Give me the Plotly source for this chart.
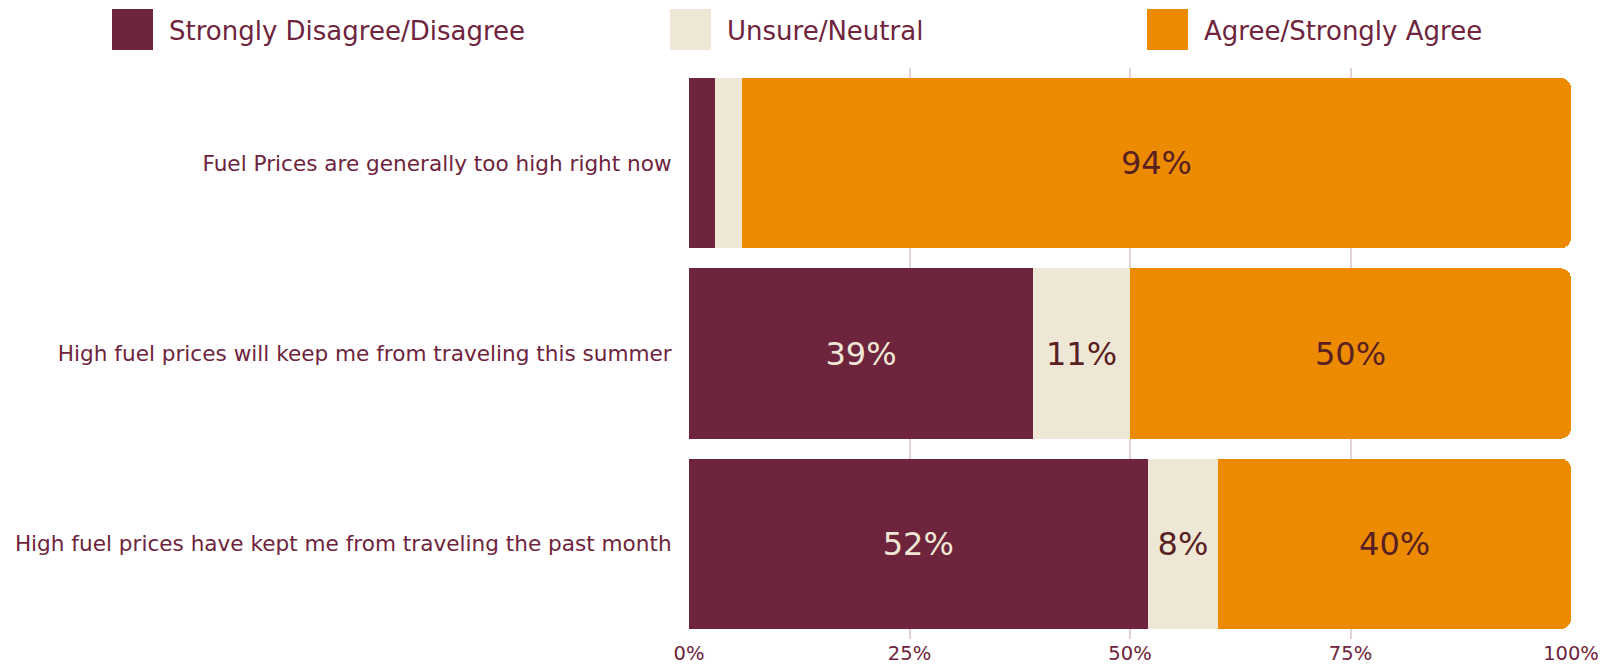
import plotly.graph_objects as go

# Survey statements (top to bottom) and the share of responses per answer group
statements = [
    "Fuel Prices are generally too high right now",
    "High fuel prices will keep me from traveling this summer",
    "High fuel prices have kept me from traveling the past month",
]
disagree = [3, 39, 52]
neutral = [3, 11, 8]
agree = [94, 50, 40]

series_names = ["Strongly Disagree/Disagree", "Unsure/Neutral", "Agree/Strongly Agree"]
tick_values = [0, 25, 50, 75, 100]
tick_labels = ["0%", "25%", "50%", "75%", "100%"]

MAROON = "#6E243D"
CREAM = "#EFE7D6"
ORANGE = "#EC8B00"
DARK_TEXT = "#5A1F22"
FONT = "DejaVu Sans"

series = [
    (series_names[0], disagree, MAROON, CREAM),
    (series_names[1], neutral, CREAM, DARK_TEXT),
    (series_names[2], agree, ORANGE, DARK_TEXT),
]

# Plot area in pixels (used to place the custom legend in paper coordinates)
PLOT_LEFT, PLOT_RIGHT, PLOT_TOP, PLOT_BOTTOM = 689, 1571, 68, 639
PW, PH = PLOT_RIGHT - PLOT_LEFT, PLOT_BOTTOM - PLOT_TOP


def px_x(x):
    return (x - PLOT_LEFT) / PW


def px_y(y):
    return (PLOT_BOTTOM - y) / PH


fig = go.Figure()
for name, values, color, text_color in series:
    fig.add_trace(go.Bar(
        y=statements,
        x=values,
        name=name,
        orientation="h",
        marker=dict(color=color, line=dict(width=0)),
        text=[f"{v}%" if v >= 5 else "" for v in values],
        textposition="inside",
        insidetextanchor="middle",
        textangle=0,
        textfont=dict(family=FONT, size=32, color=text_color),
        hoverinfo="skip",
        showlegend=False,
    ))

# Custom legend row: large colour squares with labels
legend_x = [112, 670, 1147]
for (name, _, color, _), x0 in zip(series, legend_x):
    fig.add_shape(type="rect", xref="paper", yref="paper",
                  x0=px_x(x0), x1=px_x(x0 + 41),
                  y0=px_y(50), y1=px_y(9),
                  fillcolor=color, line=dict(width=0), layer="above")
    fig.add_annotation(xref="paper", yref="paper",
                       x=px_x(x0 + 55), y=px_y(31),
                       xanchor="left", yanchor="middle", showarrow=False,
                       text=name, font=dict(family=FONT, size=26, color=MAROON))

fig.update_layout(
    width=1600,
    height=667,
    margin=dict(l=PLOT_LEFT, r=1600 - PLOT_RIGHT, t=PLOT_TOP, b=667 - PLOT_BOTTOM,
                autoexpand=False),
    barmode="stack",
    bargap=0.105,
    barcornerradius=10,
    plot_bgcolor="white",
    paper_bgcolor="white",
    font=dict(family=FONT, color=MAROON),
    xaxis=dict(
        range=[0, 100],
        tickvals=tick_values,
        ticktext=tick_labels,
        showgrid=True,
        gridcolor="#E2D3DA",
        gridwidth=2,
        zeroline=False,
        showline=False,
        automargin=False,
        tickfont=dict(family=FONT, size=19.5, color=MAROON),
        ticks="",
        fixedrange=True,
    ),
    yaxis=dict(
        autorange="reversed",
        showgrid=False,
        zeroline=False,
        showline=False,
        automargin=False,
        ticks="outside",
        ticklen=12,
        tickcolor="rgba(0,0,0,0)",
        tickfont=dict(family=FONT, size=21.6, color=MAROON),
        fixedrange=True,
    ),
)

fig.write_html("out.html")
